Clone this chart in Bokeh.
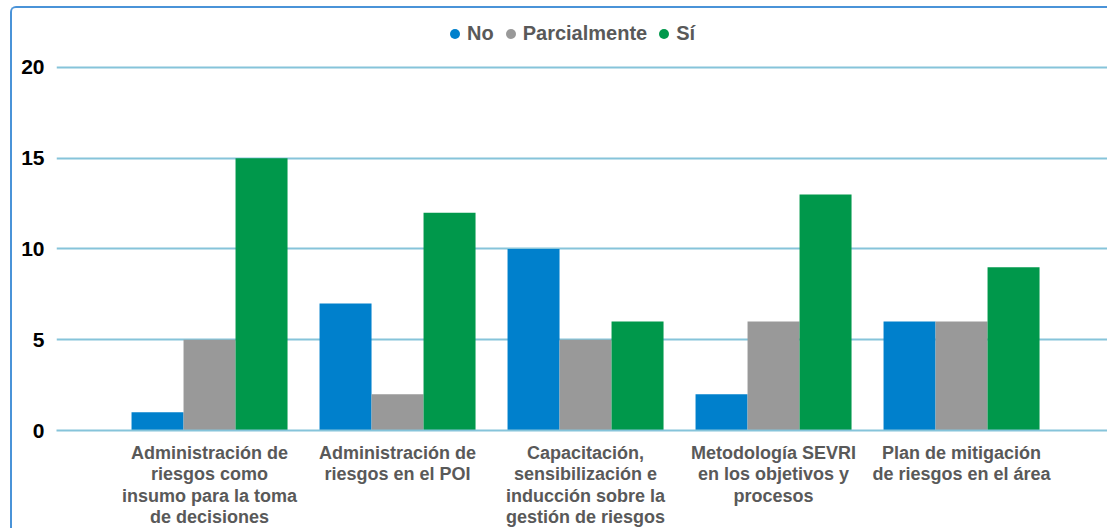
import math
from bokeh.plotting import figure
from bokeh.models import FixedTicker, Range1d, Legend, LegendItem, ColumnDataSource
from bokeh.transform import dodge
from bokeh.embed import file_html
from bokeh.resources import INLINE

categories = [
    "Administración de\nriesgos como\ninsumo para la toma\nde decisiones",
    "Administración de\nriesgos en el POI",
    "Capacitación,\nsensibilización e\ninducción sobre la\ngestión de riesgos",
    "Metodología SEVRI\nen los objetivos y\nprocesos",
    "Plan de mitigación\nde riesgos en el área",
]
series = ["No", "Parcialmente", "Sí"]
no_vals = [1, 7, 10, 2, 6]
parcial_vals = [5, 2, 5, 6, 6]
si_vals = [15, 12, 6, 13, 9]
y_ticks = [0, 5, 10, 15, 20]
colors = ["#0080CC", "#999999", "#00984B"]

pos = list(range(1, len(categories) + 1))
src = ColumnDataSource(dict(x=pos, no=no_vals, parcial=parcial_vals, si=si_vals))

p = figure(width=1097, height=522, output_backend="svg", toolbar_location=None,
           x_range=Range1d(0.186, 5.787), y_range=Range1d(0, 23.25),
           min_border_left=44, min_border_right=0, min_border_top=0, min_border_bottom=94)
p.outline_line_color = None
p.styles = {"border-left": "2px solid #4A93D8", "border-top": "2px solid #4A93D8",
            "border-top-left-radius": "6px", "margin-left": "10px", "margin-top": "6px"}

bw = 0.2766
r1 = p.vbar(x=dodge("x", -bw, range=p.x_range), top="no", width=bw, source=src,
            fill_color=colors[0], line_color=None)
r2 = p.vbar(x=dodge("x", 0, range=p.x_range), top="parcial", width=bw, source=src,
            fill_color=colors[1], line_color=None)
r3 = p.vbar(x=dodge("x", bw, range=p.x_range), top="si", width=bw, source=src,
            fill_color=colors[2], line_color=None)

# legend-only dots (no visible data points)
nan_src = ColumnDataSource(dict(x=[math.nan], y=[math.nan]))
l1 = p.scatter(x="x", y="y", source=nan_src, marker="circle", size=10, fill_color=colors[0], line_color=None)
l2 = p.scatter(x="x", y="y", source=nan_src, marker="circle", size=10, fill_color=colors[1], line_color=None)
l3 = p.scatter(x="x", y="y", source=nan_src, marker="circle", size=10, fill_color=colors[2], line_color=None)

legend = Legend(items=[LegendItem(label=series[0], renderers=[l1]),
                       LegendItem(label=series[1], renderers=[l2]),
                       LegendItem(label=series[2], renderers=[l3])],
                orientation="horizontal", location=(386, 384),
                glyph_width=25, glyph_height=25, label_height=25, label_standoff=-6,
                spacing=4, padding=0, margin=0,
                label_text_font="Liberation Sans", label_text_font_style="bold",
                label_text_font_size="20px", label_text_color="#595959",
                background_fill_alpha=0, border_line_alpha=0)
p.add_layout(legend, "center")

p.xgrid.grid_line_color = None
p.ygrid.ticker = FixedTicker(ticks=y_ticks)
p.ygrid.grid_line_color = "#86C4DA"
p.ygrid.grid_line_width = 2

p.yaxis.ticker = FixedTicker(ticks=y_ticks)
p.yaxis.axis_line_color = None
p.yaxis.major_tick_line_color = None
p.yaxis.minor_tick_line_color = None
p.yaxis.major_label_standoff = 6
p.yaxis.major_label_text_font = "Liberation Sans"
p.yaxis.major_label_text_font_style = "bold"
p.yaxis.major_label_text_font_size = "21px"
p.yaxis.major_label_text_color = "#000000"

p.xaxis.ticker = FixedTicker(ticks=pos)
p.xaxis.major_label_overrides = {i: c for i, c in zip(pos, categories)}
p.xaxis.axis_line_color = "#86C4DA"
p.xaxis.axis_line_width = 2
p.xaxis.major_tick_line_color = None
p.xaxis.minor_tick_line_color = None
p.xaxis.major_label_standoff = 6
p.xaxis.major_label_text_font = "Liberation Sans"
p.xaxis.major_label_text_font_style = "bold"
p.xaxis.major_label_text_font_size = "18px"
p.xaxis.major_label_text_color = "#595959"
p.xaxis.major_label_text_line_height = 1.08

open("out.html", "w").write(file_html(p, INLINE))
